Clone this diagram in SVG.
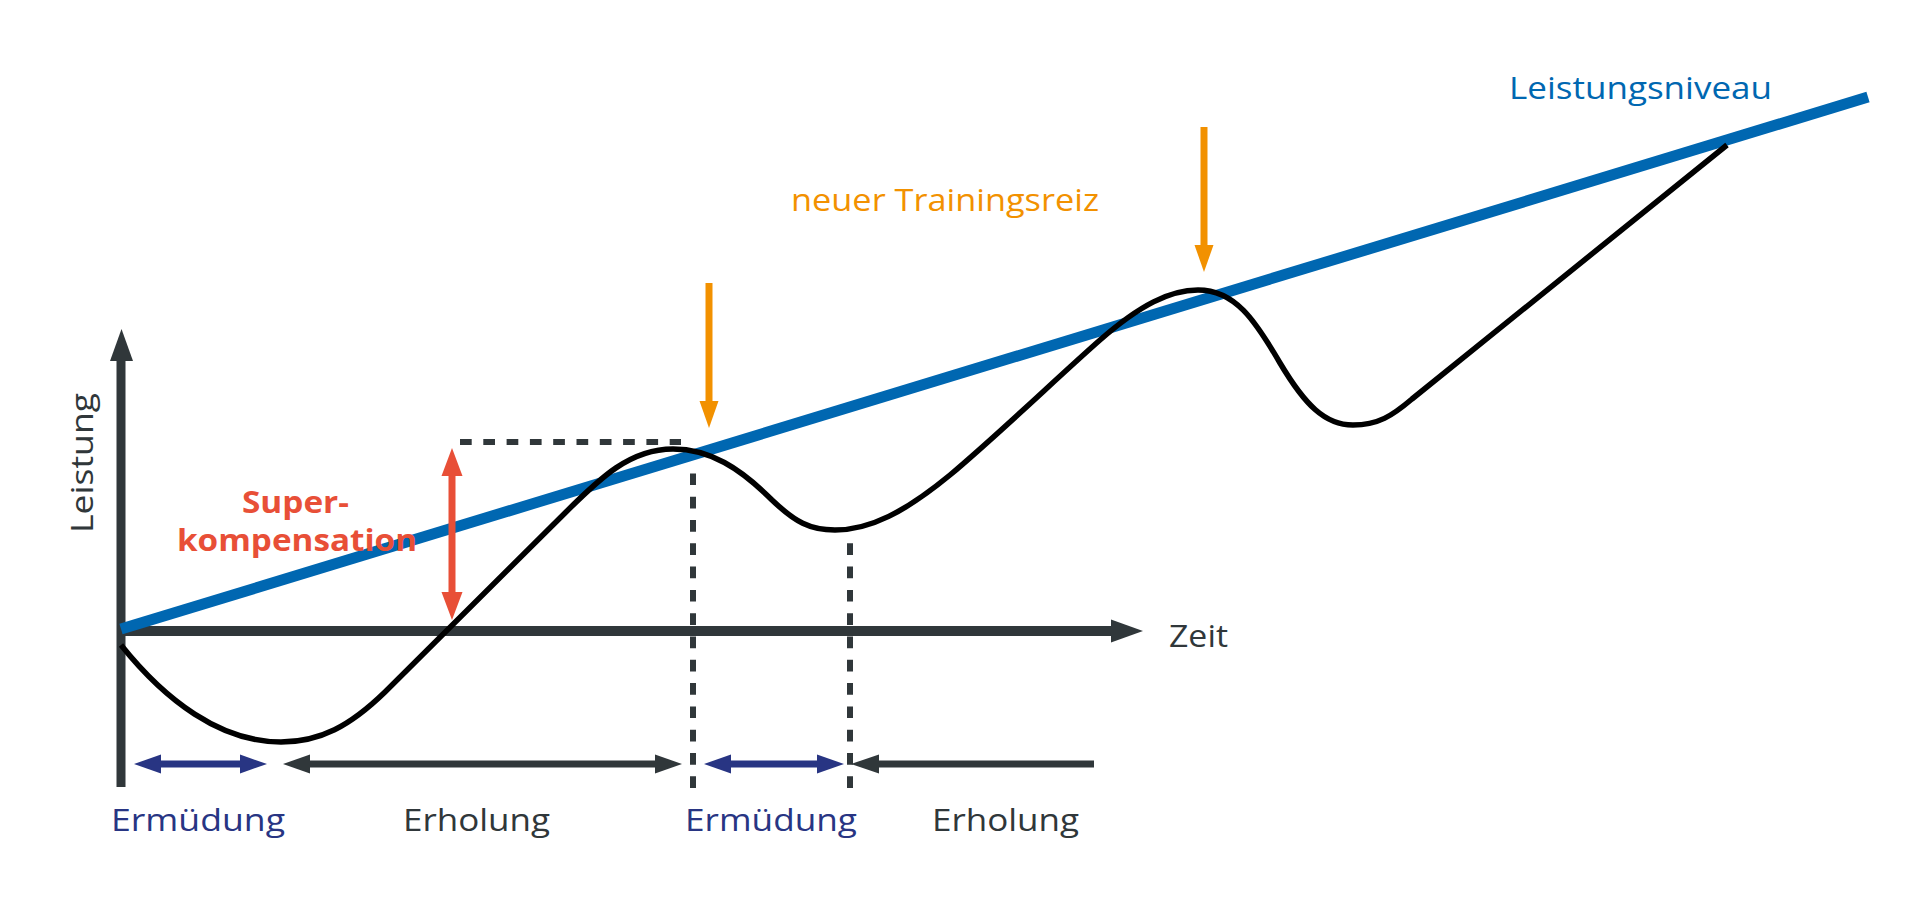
<svg xmlns="http://www.w3.org/2000/svg" width="1920" height="900" viewBox="0 0 1920 900">
<style>
.txt{font-family:"Open Sans","DejaVu Sans",sans-serif;font-size:31px}
.bold{font-weight:700;fill:#e84f37}
.gray{fill:#30373a}
.navy{fill:#283583}
.ax{stroke:#30373a;fill:none}
.dash{stroke:#30373a;stroke-width:6;stroke-dasharray:11.7 11.6;fill:none}
.shaft{stroke-width:7;fill:none}
</style>
<rect width="1920" height="900" fill="#ffffff"/>

<g id="axes">
  <line class="ax" x1="121" y1="787" x2="121" y2="358" stroke-width="9"/>
  <polygon class="gray" points="110,361 121.5,329 133,361"/>
  <line class="ax" x1="117" y1="631" x2="1113" y2="631" stroke-width="10"/>
  <polygon class="gray" points="1111,619.5 1143,631 1111,642.5"/>
</g>

<g id="guides">
  <line class="dash" x1="460" y1="442" x2="681" y2="442"/>
  <line class="dash" x1="693" y1="788" x2="693" y2="472"/>
  <line class="dash" x1="850" y1="788" x2="850" y2="533"/>
</g>

<g id="leistungsniveau-line">
  <line x1="121" y1="629" x2="1868" y2="97" stroke="#0067b1" stroke-width="11"/>
</g>

<g id="curve">
  <path d="M121,645 C165,700 220,742 281,742 C320,742 350,726 385,692 L565,513 C600,478 630,449 673,449 C710,449 740,468 772,500 C795,522 810,530 835,530 C870,530 905,512 950,475 C1000,433 1060,375 1100,340 C1140,305 1170,290 1198,290 C1235,290 1255,320 1280,363 C1305,405 1325,425 1353,425 C1378,425 1392,416 1412,399 L1727,145" fill="none" stroke="#000" stroke-width="5.5" stroke-linejoin="round"/>
</g>

<g id="connectors">
  <g id="superkomp-arrow">
    <line class="shaft" x1="452" y1="472" x2="452" y2="596" stroke="#e84f37"/>
    <polygon points="441.5,476 452,448 462.5,476" fill="#e84f37"/>
    <polygon points="441.5,592 452,620 462.5,592" fill="#e84f37"/>
  </g>
  <g id="reiz-arrow-1">
    <line class="shaft" x1="709" y1="283" x2="709" y2="404" stroke="#f29100"/>
    <polygon points="699.5,401 709,428 718.5,401" fill="#f29100"/>
  </g>
  <g id="reiz-arrow-2">
    <line class="shaft" x1="1204" y1="127" x2="1204" y2="248" stroke="#f29100"/>
    <polygon points="1194.5,245 1204,272 1213.5,245" fill="#f29100"/>
  </g>
  <g id="ermuedung-arrow-1">
    <line class="shaft" x1="158" y1="764" x2="243" y2="764" stroke="#283583"/>
    <polygon class="navy" points="161,754.5 134,764 161,773.5"/>
    <polygon class="navy" points="240,754.5 267,764 240,773.5"/>
  </g>
  <g id="erholung-arrow-1">
    <line class="shaft" x1="307" y1="764" x2="658" y2="764" stroke="#30373a"/>
    <polygon class="gray" points="310,754.5 283,764 310,773.5"/>
    <polygon class="gray" points="655,754.5 682,764 655,773.5"/>
  </g>
  <g id="ermuedung-arrow-2">
    <line class="shaft" x1="728" y1="764" x2="820" y2="764" stroke="#283583"/>
    <polygon class="navy" points="731,754.5 704,764 731,773.5"/>
    <polygon class="navy" points="817,754.5 844,764 817,773.5"/>
  </g>
  <g id="erholung-arrow-2">
    <line class="shaft" x1="876" y1="764" x2="1094" y2="764" stroke="#30373a"/>
    <polygon class="gray" points="879,754.5 851,764 879,773.5"/>
  </g>
</g>

<g id="labels">
  <text id="label-leistungsniveau" class="txt" x="1509" y="99" fill="#0067b1" textLength="263" lengthAdjust="spacingAndGlyphs">Leistungsniveau</text>
  <text id="label-reiz" class="txt" x="791" y="211" fill="#f29100" textLength="308" lengthAdjust="spacingAndGlyphs">neuer Trainingsreiz</text>
  <text id="label-zeit" class="txt gray" x="1169" y="647" textLength="59" lengthAdjust="spacingAndGlyphs">Zeit</text>
  <text id="label-leistung" class="txt gray" transform="translate(92.7,463) rotate(-90)" x="-70" y="0" textLength="140" lengthAdjust="spacingAndGlyphs">Leistung</text>
  <text id="label-super" class="txt bold" x="242" y="513" textLength="107" lengthAdjust="spacingAndGlyphs">Super-</text>
  <text id="label-kompensation" class="txt bold" x="177" y="551" textLength="240" lengthAdjust="spacingAndGlyphs">kompensation</text>
  <text id="label-ermuedung-1" class="txt navy" x="111" y="831" textLength="174" lengthAdjust="spacingAndGlyphs">Ermüdung</text>
  <text id="label-erholung-1" class="txt gray" x="403" y="831" textLength="147" lengthAdjust="spacingAndGlyphs">Erholung</text>
  <text id="label-ermuedung-2" class="txt navy" x="685" y="831" textLength="172" lengthAdjust="spacingAndGlyphs">Ermüdung</text>
  <text id="label-erholung-2" class="txt gray" x="932" y="831" textLength="147" lengthAdjust="spacingAndGlyphs">Erholung</text>
</g>
</svg>
